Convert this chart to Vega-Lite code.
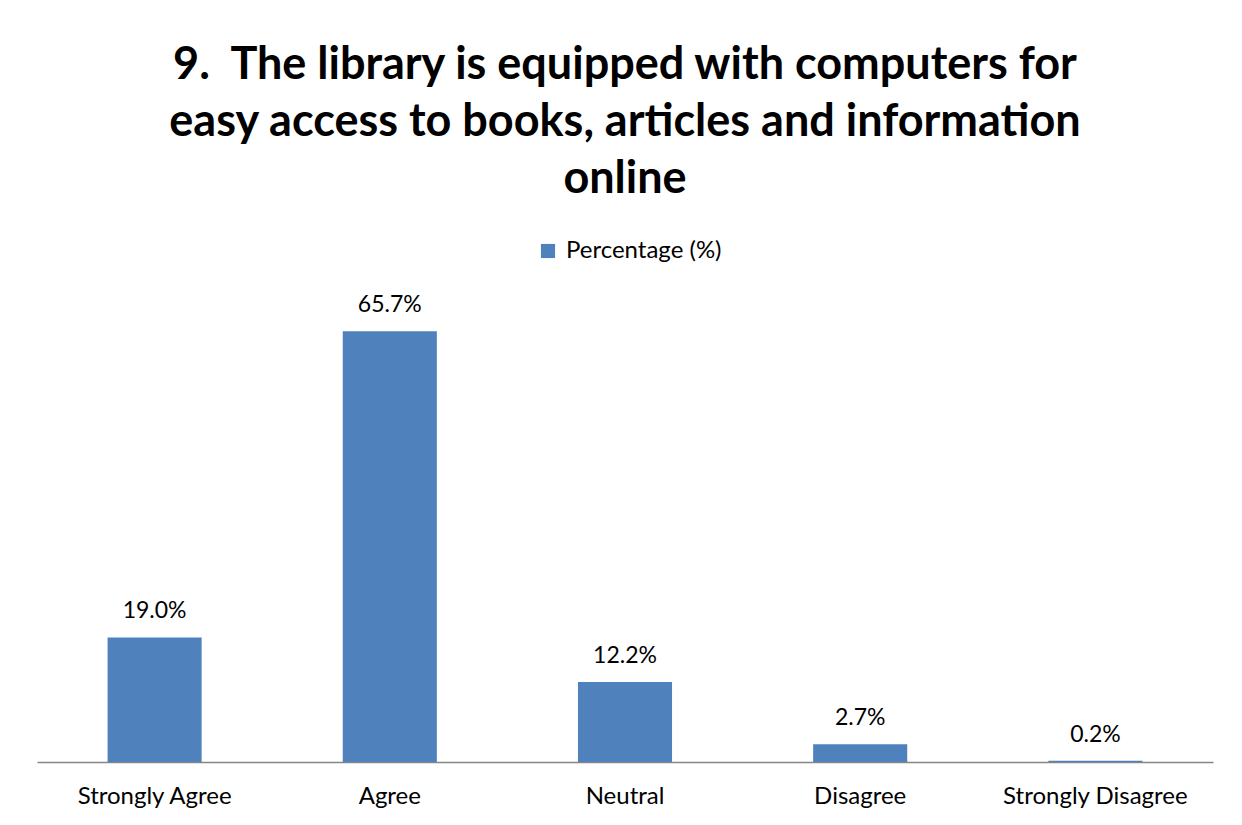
{
  "$schema": "https://vega.github.io/schema/vega-lite/v6.json",
  "width": 1176,
  "height": 459,
  "autosize": {"type": "none"},
  "padding": {"left": 37, "top": 303, "right": 29, "bottom": 63},
  "background": "white",
  "title": {
    "text": ["9.\u00a0 The library is equipped with computers for", "easy access to books, articles and information", "online"],
    "font": "Lato",
    "fontSize": 45,
    "fontWeight": "bold",
    "color": "#000000",
    "lineHeight": 57,
    "anchor": "middle",
    "offset": 37
  },
  "data": {
    "values": [
      {"category": "Strongly Agree", "pct": 19.0, "label": "19.0%", "series": "Percentage (%)"},
      {"category": "Agree", "pct": 65.7, "label": "65.7%", "series": "Percentage (%)"},
      {"category": "Neutral", "pct": 12.2, "label": "12.2%", "series": "Percentage (%)"},
      {"category": "Disagree", "pct": 2.7, "label": "2.7%", "series": "Percentage (%)"},
      {"category": "Strongly Disagree", "pct": 0.2, "label": "0.2%", "series": "Percentage (%)"}
    ]
  },
  "encoding": {
    "x": {
      "field": "category",
      "type": "nominal",
      "sort": null,
      "scale": {"paddingInner": 0.6, "paddingOuter": 0.3},
      "axis": {
        "title": null,
        "labelAngle": 0,
        "labelFont": "Lato",
        "labelFontSize": 24,
        "labelColor": "#000000",
        "labelPadding": 22,
        "labelLimit": 0,
        "ticks": false,
        "domainColor": "#868686",
        "domainWidth": 1.5
      }
    },
    "y": {
      "field": "pct",
      "type": "quantitative",
      "scale": {"domain": [0, 70]},
      "axis": null
    }
  },
  "layer": [
    {
      "mark": {"type": "bar", "color": "#4F81BD"},
      "encoding": {
        "color": {
          "field": "series",
          "type": "nominal",
          "scale": {"range": ["#4F81BD"]},
          "legend": {
            "title": null,
            "orient": "none",
            "legendX": 499,
            "legendY": -64,
            "symbolType": "square",
            "symbolSize": 200,
            "labelFont": "Lato",
            "labelFontSize": 24,
            "labelColor": "#000000",
            "labelOffset": 6
          }
        }
      }
    },
    {
      "mark": {"type": "text", "baseline": "bottom", "dy": -14, "font": "Lato", "fontSize": 23, "color": "#000000"},
      "encoding": {
        "text": {"field": "label", "type": "nominal"}
      }
    }
  ],
  "config": {"view": {"stroke": null}}
}
